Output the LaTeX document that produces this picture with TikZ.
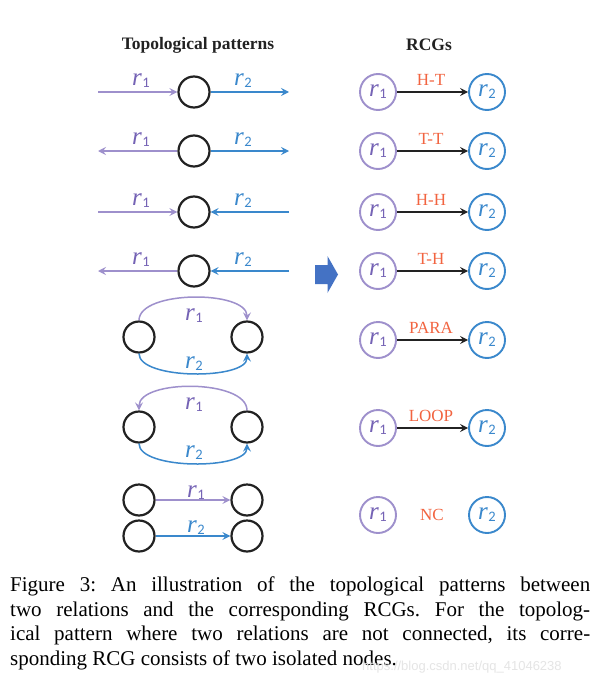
\documentclass[tikz,border=0pt]{standalone}
\usepackage{fontspec}
\setmainfont{Liberation Serif}
\newfontfamily\wmfont{Liberation Sans}
\newfontfamily\carlitofont{Carlito}
\usetikzlibrary{arrows.meta}
\definecolor{pur}{HTML}{9E90CC}
\definecolor{purt}{HTML}{7563B5}
\definecolor{blu}{HTML}{3A88CC}
\definecolor{org}{HTML}{F26440}
\definecolor{blk}{HTML}{222222}
\definecolor{barrow}{HTML}{4472C4}
\newcommand\rlab[1]{{\fontsize{25}{25}\selectfont\itshape r\/\kern0.5pt\raisebox{-2pt}{\carlitofont\upshape\fontsize{14.5}{14.5}\selectfont #1}}}
\tikzset{
  vert/.style={circle,draw=blk,line width=2.2pt,minimum size=31pt,inner sep=0pt},
  relone/.style={circle,draw=pur,line width=1.9pt,minimum size=36pt,inner sep=0pt,text=purt},
  reltwo/.style={circle,draw=blu,line width=1.9pt,minimum size=36pt,inner sep=0pt,text=blu},
  tipa/.style={-{Stealth[length=8pt,width=8pt,inset=3pt]}},
  eone/.style={draw=pur,line width=1.5pt,tipa},
  etwo/.style={draw=blu,line width=1.5pt,tipa},
  labone/.style={text=purt,inner sep=0pt,anchor=base},
  labtwo/.style={text=blu,inner sep=0pt,anchor=base},
  patlab/.style={text=org,font=\fontsize{17}{17}\selectfont,inner sep=0pt},
  rcgedge/.style={draw=blk,line width=1.3pt,-{Stealth[length=8pt,width=8pt,inset=3pt]}},
  head/.style={font=\fontsize{17.5}{17.5}\selectfont\bfseries,text=blk,inner sep=0pt},
}
\begin{document}
\begin{tikzpicture}[x=1pt,y=-1pt]
\useasboundingbox (0,0) rectangle (601,693);
\fill[white] (0,0) rectangle (601,693);
% headings
\node[head] (h1) at (198,45) {Topological patterns};
\node[head] (h2) at (429,45) {RCGs};
% rows 1-4 (left)
\foreach \i/\y in {1/92,2/151,3/212,4/271}{
  \node[vert] (c\i) at (194,\y) {};
  \coordinate (a\i) at (98,\y);
  \coordinate (b\i) at (289,\y);
  \node[labone] (la\i) at (141,\y-7) {\rlab{1}};
  \node[labtwo] (lb\i) at (243,\y-7) {\rlab{2}};
}
\draw[eone] (a1) -- (c1);
\draw[etwo] (c1) -- (b1);
\draw[eone] (c2) -- (a2);
\draw[etwo] (c2) -- (b2);
\draw[eone] (a3) -- (c3);
\draw[etwo] (b3) -- (c3);
\draw[eone] (c4) -- (a4);
\draw[etwo] (b4) -- (c4);
% row 5 (PARA)
\node[vert] (l5) at (139,337) {};
\node[vert] (r5) at (247,337) {};
\draw[eone] (l5.north) .. controls (139,290) and (247,290) .. (r5.north);
\draw[etwo] (l5.south) .. controls (139,380) and (247,380) .. (r5.south);
\node[labone] (la5) at (194,320) {\rlab{1}};
\node[labtwo] (lb5) at (194,368) {\rlab{2}};
% row 6 (LOOP)
\node[vert] (l6) at (139,427) {};
\node[vert] (r6) at (247,427) {};
\draw[eone] (r6.north) .. controls (247,379) and (139,379) .. (l6.north);
\draw[etwo] (l6.south) .. controls (139,470) and (247,470) .. (r6.south);
\node[labone] (la6) at (194,409) {\rlab{1}};
\node[labtwo] (lb6) at (194,457) {\rlab{2}};
% row 7 (NC)
\node[vert] (l7a) at (139,500) {};
\node[vert] (r7a) at (247,500) {};
\node[vert] (l7b) at (139,536) {};
\node[vert] (r7b) at (247,536) {};
\draw[eone] (l7a) -- (r7a);
\draw[etwo] (l7b) -- (r7b);
\node[labone] (la7) at (196,497) {\rlab{1}};
\node[labtwo] (lb7) at (196,532) {\rlab{2}};
% block arrow
\fill[barrow] (315,265) -- (327.5,265) -- (327.5,256) -- (338,274.5) -- (327.5,293) -- (327.5,284) -- (315,284) -- cycle;
% RCGs
\foreach \i/\y/\t in {1/92/H-T,2/151/T-T,3/212/H-H,4/271/T-H,5/340/PARA,6/428/LOOP}{
  \node[relone] (p\i) at (378,\y) {\rlab{1}};
  \node[reltwo] (q\i) at (487,\y) {\rlab{2}};
  \draw[rcgedge] (p\i) -- (q\i);
  \node[patlab] (t\i) at (431,\y-12) {\t};
}
\node[relone] (p7) at (378,515) {\rlab{1}};
\node[reltwo] (q7) at (487,515) {\rlab{2}};
\node[patlab] (t7) at (432,515) {NC};
% caption
\node[anchor=north west,inner sep=0pt,text=black] (cap) at (10,577) {%
\begin{minipage}{580pt}\fontsize{21}{24.5}\selectfont\frenchspacing
Figure 3: An illustration of the topological patterns between\linebreak
two relations and the corresponding RCGs. For the topolog-\linebreak
ical pattern where two relations are not connected, its corre-\linebreak
sponding RCG consists of two isolated nodes.
\end{minipage}};
\node[anchor=base west,inner sep=0pt,text=black!10,font=\wmfont\fontsize{13}{13}\selectfont] (wm) at (362,670) {https://blog.csdn.net/qq\_41046238};
\end{tikzpicture}
\end{document}
